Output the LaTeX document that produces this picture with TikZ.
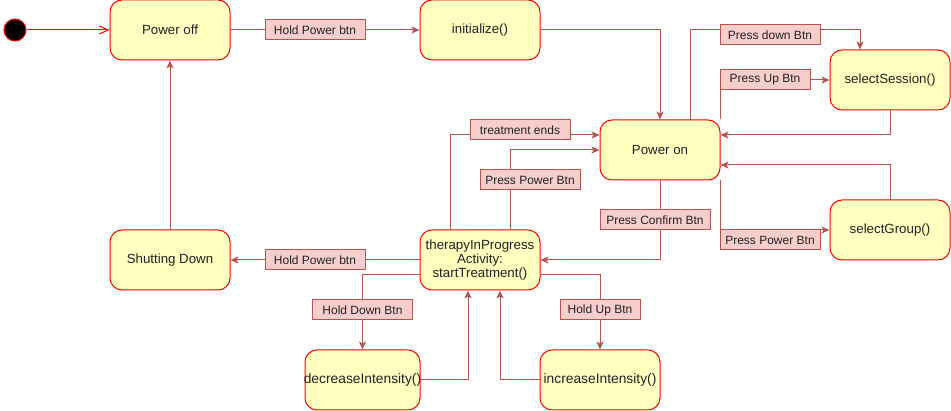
\documentclass[tikz,border=0pt]{standalone}
\usepackage{fontspec}
\setmainfont{Liberation Sans}
\usetikzlibrary{arrows.meta}
\definecolor{stfill}{HTML}{FFFFC0}
\definecolor{stline}{HTML}{FF0000}
\definecolor{edgec}{HTML}{B85450}
\definecolor{lblfill}{HTML}{F8CECC}
\definecolor{txt}{HTML}{222222}
\begin{document}
\begin{tikzpicture}[x=1pt,y=-1pt,
 state/.style={draw=stline, fill=stfill, line width=1pt, rounded corners=12pt,
   minimum width=120pt, minimum height=60pt, inner sep=0pt, text=txt,
   font=\fontsize{13.3}{14}\selectfont, align=center},
 bigtxt/.style={font=\fontsize{13.8}{14}\selectfont},
 lbl/.style={draw=edgec, fill=lblfill, line width=1pt, minimum height=20pt,
   inner sep=0pt, text=txt, font=\fontsize{12}{14}\selectfont},
 edge/.style={draw=edgec, line width=1pt, -{Stealth[length=8pt,width=7pt,inset=2pt]}},
 startarr/.style={draw=stline, line width=1pt, -{Straight Barb[length=9pt,width=8pt]}},
]
\useasboundingbox (0,0) rectangle (951,411);

% states
\node[circle, fill=black, draw=stline, line width=1pt, minimum size=22pt, inner sep=0pt] (init) at (15,30) {};
\node[state] (off) at (170,30) {Power off};
\node[state] (ini) at (480,30) {initialize()};
\node[state] (on) at (660,150) {Power on};
\node[state] (ses) at (890,80) {selectSession()};
\node[state] (grp) at (890,230) {selectGroup()};
\node[state] (ther) at (480,260) {therapyInProgress\\Activity:\\startTreatment()};
\node[state] (shut) at (170,260) {Shutting Down};
\node[state, minimum width=115pt, bigtxt] (dec) at (362.5,380) {\makebox[0pt]{decreaseIntensity()}};
\node[state, bigtxt] (inc) at (600,380) {\makebox[0pt]{increaseIntensity()}};

% connectors
\draw[startarr] (init) -- (off);
\draw[edge] (off) -- (ini);
\draw[edge] (ini.east) -| (on.north);
\draw[edge] ([xshift=30pt]on.north) -- ++(0,-90) -| ([xshift=-30pt]ses.north);
\draw[edge] (on.north east) |- (ses.west);
\draw[edge] (ses.south) |- ([yshift=15pt]on.east);
\draw[edge] (grp.north) |- ([yshift=-15pt]on.east);
\draw[edge] (on.south east) |- (grp.west);
\draw[edge] (on.south) |- (ther.east);
\draw[edge] ([xshift=-30pt]ther.north) |- ([yshift=15pt]on.west);
\draw[edge] ([xshift=30pt]ther.north) |- (on.west);
\draw[edge] (ther.west) -- (shut.east);
\draw[edge] (shut.north) -- (off.south);
\draw[edge] ([yshift=-15pt]ther.west) -| (dec.north);
\draw[edge] ([yshift=-15pt]ther.east) -| (inc.north);
\draw[edge] (dec.east) -| ([xshift=-12pt]ther.south);
\draw[edge] (inc.west) -| ([xshift=20pt]ther.south);

% labels
\node[lbl, minimum width=100pt] (l1) at (315,30) {Hold Power btn};
\node[lbl, minimum width=100pt] (l2) at (770,35) {Press down Btn};
\node[lbl, minimum width=90pt] (l3) at (765,80) {Press Up Btn};
\node[lbl, minimum width=100pt] (l4) at (520,130) {treatment ends};
\node[lbl, minimum width=100pt] (l5) at (530,180) {Press Power Btn};
\node[lbl, minimum width=110pt] (l6) at (655,220) {Press Confirm Btn};
\node[lbl, minimum width=100pt] (l7) at (770,240) {Press Power Btn};
\node[lbl, minimum width=100pt] (l8) at (315,260) {Hold Power btn};
\node[lbl, minimum width=100pt] (l9) at (362.5,310) {Hold Down Btn};
\node[lbl, minimum width=80pt] (l10) at (600,310) {Hold Up Btn};
\end{tikzpicture}
\end{document}
